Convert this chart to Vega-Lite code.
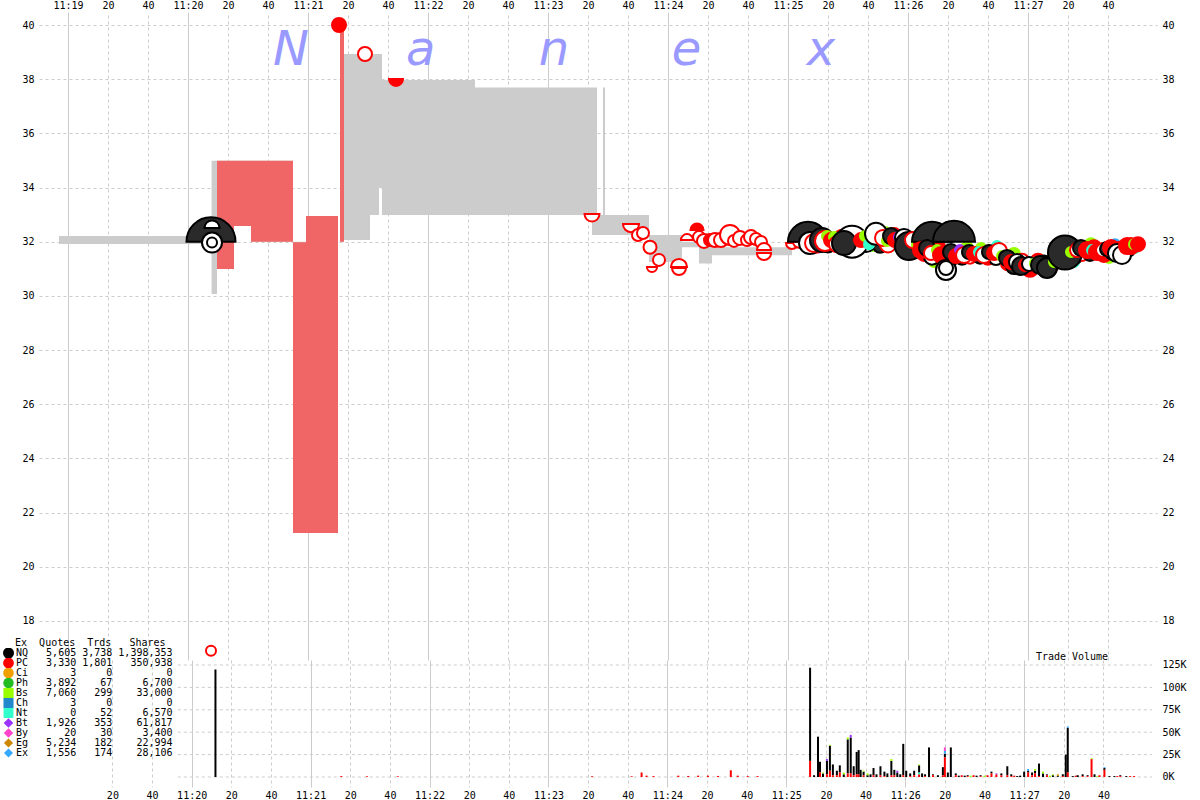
{
  "$schema": "https://vega.github.io/schema/vega-lite/v6.json",
  "autosize": {"type": "pad"},
  "padding": {"left": 3, "top": 0, "right": 0, "bottom": 0},
  "background": "white",
  "bounds": "flush",
  "spacing": 0,
  "config": {
    "view": {"stroke": null},
    "axis": {"domain": false, "ticks": false, "labelFont": "DejaVu Sans Mono", "labelFontSize": 10, "labelColor": "#000000", "gridColor": "#CCCCCC", "gridWidth": 1, "labelOverlap": false, "labelFlush": false}
  },
  "datasets": {
    "wm": [
      {"letter": "N", "t": 1251.5, "p": 38.52},
      {"letter": "a", "t": 1316.3, "p": 38.52},
      {"letter": "n", "t": 1383, "p": 38.52},
      {"letter": "e", "t": 1449.3, "p": 38.52},
      {"letter": "x", "t": 1516.5, "p": 38.52}
    ],
    "nbbo": [
      {"t": 1135.5, "bid": 31.92, "ask": 32.21},
      {"t": 1211.8, "bid": 30.07, "ask": 34.99},
      {"t": 1214.5, "bid": 30.99, "ask": 34.99},
      {"t": 1223, "bid": 32.58, "ask": 34.99},
      {"t": 1231.5, "bid": 32.0, "ask": 34.99},
      {"t": 1252.5, "bid": 21.25, "ask": 32.0},
      {"t": 1259, "bid": 21.25, "ask": 32.95},
      {"t": 1275, "bid": 32.0, "ask": 32.0},
      {"t": 1276, "bid": 32.0, "ask": 40.0},
      {"t": 1278, "bid": 32.06, "ask": 38.93},
      {"t": 1291, "bid": 32.99, "ask": 38.93},
      {"t": 1295.5, "bid": 33.98, "ask": 38.93},
      {"t": 1297, "bid": 32.99, "ask": 37.97},
      {"t": 1343.5, "bid": 32.99, "ask": 37.69},
      {"t": 1402, "bid": 32.25, "ask": 37.69},
      {"t": 1404.5, "bid": 32.25, "ask": 32.99},
      {"t": 1407.5, "bid": 32.25, "ask": 37.69},
      {"t": 1408.5, "bid": 32.25, "ask": 32.99},
      {"t": 1430.5, "bid": 31.25, "ask": 32.25},
      {"t": 1447, "bid": 31.8, "ask": 32.0},
      {"t": 1455.5, "bid": 31.2, "ask": 32.0},
      {"t": 1462, "bid": 31.5, "ask": 31.8},
      {"t": 1502, "bid": 31.88, "ask": 32.03},
      {"t": 1520, "bid": 31.95, "ask": 32.1},
      {"t": 1560, "bid": 31.8, "ask": 31.95},
      {"t": 1580, "bid": 31.55, "ask": 31.7},
      {"t": 1610, "bid": 31.3, "ask": 31.45},
      {"t": 1630, "bid": 31.05, "ask": 31.2},
      {"t": 1640, "bid": 31.55, "ask": 31.7},
      {"t": 1660, "bid": 31.7, "ask": 31.85},
      {"t": 1675, "bid": 31.85, "ask": 32.0},
      {"t": 1676, "bid": 31.85, "ask": 32.0}
    ],
    "pcq": [
      {"t": 1214.5, "bid": 30.99, "ask": 34.99},
      {"t": 1223, "bid": 32.58, "ask": 34.99},
      {"t": 1231.5, "bid": 32.0, "ask": 34.99},
      {"t": 1252.5, "bid": 21.25, "ask": 31.98},
      {"t": 1259, "bid": 21.25, "ask": 32.95},
      {"t": 1275, "bid": 32.0, "ask": 32.0},
      {"t": 1276, "bid": 32.0, "ask": 40.0},
      {"t": 1278, "bid": 32.0, "ask": 32.0}
    ],
    "trades": [
      {"t": 1211.5, "p": 32.0, "ex": "NQ", "kind": "filled", "half": "top", "shares": 9348},
      {"t": 1212, "p": 32.51, "ex": "NQ", "kind": "hollow", "half": "top", "shares": 644},
      {"t": 1212, "p": 31.97, "ex": "NQ", "kind": "hollow", "half": "full", "shares": 1344},
      {"t": 1212, "p": 31.97, "ex": "NQ", "kind": "hollow", "half": "full", "shares": 144},
      {"t": 1211.5, "p": 16.9, "ex": "PC", "kind": "hollow", "half": "full", "shares": 144},
      {"t": 1275.5, "p": 40.0, "ex": "PC", "kind": "filled", "half": "full", "shares": 528},
      {"t": 1288.5, "p": 38.93, "ex": "PC", "kind": "hollow", "half": "full", "shares": 528},
      {"t": 1304, "p": 38.01, "ex": "PC", "kind": "filled", "half": "bottom", "shares": 528},
      {"t": 1402, "p": 33.02, "ex": "PC", "kind": "hollow", "half": "bottom", "shares": 640},
      {"t": 1421.5, "p": 32.65, "ex": "PC", "kind": "hollow", "half": "bottom", "shares": 770},
      {"t": 1425, "p": 32.25, "ex": "PC", "kind": "hollow", "half": "full", "shares": 320},
      {"t": 1427.5, "p": 32.32, "ex": "PC", "kind": "hollow", "half": "full", "shares": 320},
      {"t": 1431, "p": 31.8, "ex": "PC", "kind": "hollow", "half": "full", "shares": 420},
      {"t": 1432, "p": 31.07, "ex": "PC", "kind": "hollow", "half": "bottom", "shares": 150},
      {"t": 1435.5, "p": 31.33, "ex": "PC", "kind": "hollow", "half": "full", "shares": 320},
      {"t": 1445.5, "p": 31.07, "ex": "PC", "kind": "hollow", "half": "top", "shares": 770},
      {"t": 1445.5, "p": 31.03, "ex": "PC", "kind": "hollow", "half": "bottom", "shares": 530},
      {"t": 1449.5, "p": 32.06, "ex": "PC", "kind": "hollow", "half": "top", "shares": 320},
      {"t": 1454.5, "p": 32.43, "ex": "PC", "kind": "filled", "half": "top", "shares": 420},
      {"t": 1455.5, "p": 32.17, "ex": "PC", "kind": "hollow", "half": "full", "shares": 320},
      {"t": 1458, "p": 32.03, "ex": "PC", "kind": "hollow", "half": "full", "shares": 530},
      {"t": 1461, "p": 32.06, "ex": "PC", "kind": "filled", "half": "full", "shares": 320},
      {"t": 1463.5, "p": 32.06, "ex": "PC", "kind": "hollow", "half": "full", "shares": 530},
      {"t": 1466.5, "p": 32.06, "ex": "PC", "kind": "hollow", "half": "full", "shares": 530},
      {"t": 1471, "p": 32.25, "ex": "PC", "kind": "hollow", "half": "full", "shares": 1344},
      {"t": 1473, "p": 32.03, "ex": "PC", "kind": "hollow", "half": "full", "shares": 320},
      {"t": 1476, "p": 32.14, "ex": "PC", "kind": "hollow", "half": "full", "shares": 530},
      {"t": 1479.5, "p": 32.06, "ex": "PC", "kind": "hollow", "half": "full", "shares": 320},
      {"t": 1481.5, "p": 32.17, "ex": "PC", "kind": "hollow", "half": "full", "shares": 530},
      {"t": 1484, "p": 32.1, "ex": "PC", "kind": "hollow", "half": "full", "shares": 320},
      {"t": 1486.5, "p": 31.99, "ex": "PC", "kind": "hollow", "half": "full", "shares": 320},
      {"t": 1488, "p": 31.69, "ex": "PC", "kind": "hollow", "half": "top", "shares": 530},
      {"t": 1488, "p": 31.58, "ex": "PC", "kind": "hollow", "half": "bottom", "shares": 530},
      {"t": 1502, "p": 31.95, "ex": "PC", "kind": "hollow", "half": "bottom", "shares": 320},
      {"t": 1505.5, "p": 32.0, "ex": "PC", "kind": "hollow", "half": "bottom", "shares": 320},
      {"t": 1514.5, "p": 32.21, "ex": "Bs", "kind": "filled", "half": "full", "shares": 320},
      {"t": 1515.5, "p": 31.8, "ex": "Bt", "kind": "filled", "half": "full", "shares": 144},
      {"t": 1523.5, "p": 31.84, "ex": "Nt", "kind": "filled", "half": "full", "shares": 144},
      {"t": 1534.5, "p": 31.84, "ex": "Bs", "kind": "filled", "half": "full", "shares": 320},
      {"t": 1542.5, "p": 31.84, "ex": "Bs", "kind": "filled", "half": "full", "shares": 144},
      {"t": 1548.5, "p": 32.36, "ex": "Bs", "kind": "filled", "half": "full", "shares": 144},
      {"t": 1554.5, "p": 31.84, "ex": "Nt", "kind": "filled", "half": "full", "shares": 144},
      {"t": 1563, "p": 31.69, "ex": "Bs", "kind": "filled", "half": "full", "shares": 320},
      {"t": 1573, "p": 31.25, "ex": "Bs", "kind": "filled", "half": "full", "shares": 144},
      {"t": 1575.5, "p": 31.4, "ex": "Bt", "kind": "filled", "half": "full", "shares": 144},
      {"t": 1589.5, "p": 31.77, "ex": "Bs", "kind": "filled", "half": "full", "shares": 320},
      {"t": 1596.5, "p": 31.77, "ex": "Bs", "kind": "filled", "half": "full", "shares": 144},
      {"t": 1604.5, "p": 31.84, "ex": "Nt", "kind": "filled", "half": "full", "shares": 144},
      {"t": 1613, "p": 31.55, "ex": "Bs", "kind": "filled", "half": "full", "shares": 320},
      {"t": 1631.5, "p": 30.96, "ex": "Bs", "kind": "filled", "half": "full", "shares": 144},
      {"t": 1643, "p": 31.25, "ex": "Nt", "kind": "filled", "half": "full", "shares": 144},
      {"t": 1651.5, "p": 31.91, "ex": "Bs", "kind": "filled", "half": "full", "shares": 320},
      {"t": 1660.5, "p": 31.4, "ex": "Bs", "kind": "filled", "half": "full", "shares": 144},
      {"t": 1663.5, "p": 31.91, "ex": "Ex", "kind": "filled", "half": "full", "shares": 144},
      {"t": 1673.5, "p": 31.77, "ex": "Nt", "kind": "filled", "half": "full", "shares": 144},
      {"t": 1514, "p": 31.85, "ex": "PC", "kind": "filled", "half": "full", "shares": 528},
      {"t": 1520, "p": 31.9, "ex": "NQ", "kind": "filled", "half": "full", "shares": 768},
      {"t": 1527, "p": 32.15, "ex": "PC", "kind": "hollow", "half": "full", "shares": 768},
      {"t": 1530, "p": 31.85, "ex": "PC", "kind": "filled", "half": "full", "shares": 528},
      {"t": 1535, "p": 32.15, "ex": "NQ", "kind": "filled", "half": "full", "shares": 528},
      {"t": 1539, "p": 31.95, "ex": "NQ", "kind": "hollow", "half": "full", "shares": 1040},
      {"t": 1543, "p": 32.05, "ex": "PC", "kind": "filled", "half": "full", "shares": 768},
      {"t": 1546, "p": 31.85, "ex": "NQ", "kind": "filled", "half": "full", "shares": 528},
      {"t": 1550, "p": 31.9, "ex": "PC", "kind": "hollow", "half": "full", "shares": 768},
      {"t": 1553, "p": 32.25, "ex": "PC", "kind": "filled", "half": "full", "shares": 528},
      {"t": 1557, "p": 31.9, "ex": "NQ", "kind": "filled", "half": "full", "shares": 768},
      {"t": 1561, "p": 32.1, "ex": "PC", "kind": "filled", "half": "full", "shares": 528},
      {"t": 1565, "p": 31.75, "ex": "NQ", "kind": "filled", "half": "full", "shares": 768},
      {"t": 1568, "p": 31.55, "ex": "PC", "kind": "filled", "half": "full", "shares": 528},
      {"t": 1572, "p": 31.45, "ex": "NQ", "kind": "hollow", "half": "full", "shares": 768},
      {"t": 1575, "p": 31.8, "ex": "PC", "kind": "filled", "half": "full", "shares": 528},
      {"t": 1578, "p": 31.4, "ex": "PC", "kind": "filled", "half": "full", "shares": 768},
      {"t": 1582, "p": 31.4, "ex": "NQ", "kind": "filled", "half": "full", "shares": 528},
      {"t": 1587, "p": 31.45, "ex": "NQ", "kind": "filled", "half": "full", "shares": 768},
      {"t": 1591, "p": 31.45, "ex": "PC", "kind": "hollow", "half": "full", "shares": 528},
      {"t": 1596, "p": 31.45, "ex": "NQ", "kind": "filled", "half": "full", "shares": 528},
      {"t": 1600, "p": 31.45, "ex": "PC", "kind": "filled", "half": "full", "shares": 768},
      {"t": 1604, "p": 31.4, "ex": "NQ", "kind": "hollow", "half": "full", "shares": 528},
      {"t": 1610, "p": 31.2, "ex": "PC", "kind": "filled", "half": "full", "shares": 528},
      {"t": 1613, "p": 31.1, "ex": "NQ", "kind": "filled", "half": "full", "shares": 768},
      {"t": 1617, "p": 31.3, "ex": "PC", "kind": "hollow", "half": "full", "shares": 528},
      {"t": 1621, "p": 31.0, "ex": "PC", "kind": "filled", "half": "full", "shares": 768},
      {"t": 1625, "p": 31.3, "ex": "PC", "kind": "filled", "half": "full", "shares": 528},
      {"t": 1628, "p": 31.2, "ex": "NQ", "kind": "filled", "half": "full", "shares": 768},
      {"t": 1632, "p": 31.15, "ex": "PC", "kind": "hollow", "half": "full", "shares": 528},
      {"t": 1636, "p": 31.45, "ex": "NQ", "kind": "filled", "half": "full", "shares": 768},
      {"t": 1640, "p": 31.4, "ex": "PC", "kind": "filled", "half": "full", "shares": 528},
      {"t": 1643, "p": 31.5, "ex": "NQ", "kind": "filled", "half": "full", "shares": 1040},
      {"t": 1647, "p": 31.55, "ex": "PC", "kind": "hollow", "half": "full", "shares": 528},
      {"t": 1651, "p": 31.55, "ex": "NQ", "kind": "filled", "half": "full", "shares": 528},
      {"t": 1653, "p": 31.8, "ex": "PC", "kind": "filled", "half": "full", "shares": 528},
      {"t": 1658, "p": 31.55, "ex": "PC", "kind": "filled", "half": "full", "shares": 768},
      {"t": 1662, "p": 31.6, "ex": "NQ", "kind": "filled", "half": "full", "shares": 528},
      {"t": 1666, "p": 31.7, "ex": "PC", "kind": "filled", "half": "full", "shares": 768},
      {"t": 1670, "p": 31.7, "ex": "NQ", "kind": "hollow", "half": "full", "shares": 528},
      {"t": 1510, "p": 32.0, "ex": "NQ", "kind": "filled", "half": "top", "shares": 6144},
      {"t": 1511, "p": 31.95, "ex": "NQ", "kind": "hollow", "half": "full", "shares": 1680},
      {"t": 1513, "p": 31.95, "ex": "PC", "kind": "hollow", "half": "full", "shares": 1040},
      {"t": 1517, "p": 32.06, "ex": "NQ", "kind": "filled", "half": "full", "shares": 2048},
      {"t": 1518.5, "p": 32.03, "ex": "PC", "kind": "hollow", "half": "full", "shares": 1344},
      {"t": 1519.5, "p": 32.21, "ex": "Bs", "kind": "filled", "half": "full", "shares": 144},
      {"t": 1521.5, "p": 32.06, "ex": "PC", "kind": "filled", "half": "full", "shares": 528},
      {"t": 1523, "p": 32.17, "ex": "Bs", "kind": "filled", "half": "full", "shares": 144},
      {"t": 1524.5, "p": 31.91, "ex": "PC", "kind": "hollow", "half": "full", "shares": 768},
      {"t": 1526, "p": 32.1, "ex": "Nt", "kind": "filled", "half": "full", "shares": 144},
      {"t": 1532, "p": 32.0, "ex": "NQ", "kind": "hollow", "half": "full", "shares": 3840},
      {"t": 1528, "p": 31.95, "ex": "NQ", "kind": "filled", "half": "full", "shares": 2048},
      {"t": 1536.5, "p": 32.06, "ex": "PC", "kind": "filled", "half": "full", "shares": 528},
      {"t": 1538.5, "p": 32.21, "ex": "Bs", "kind": "filled", "half": "full", "shares": 144},
      {"t": 1540.5, "p": 31.91, "ex": "Nt", "kind": "filled", "half": "full", "shares": 144},
      {"t": 1544, "p": 32.29, "ex": "NQ", "kind": "hollow", "half": "full", "shares": 1680},
      {"t": 1547.5, "p": 32.14, "ex": "PC", "kind": "hollow", "half": "full", "shares": 768},
      {"t": 1549.5, "p": 32.03, "ex": "Bs", "kind": "filled", "half": "full", "shares": 144},
      {"t": 1551.5, "p": 32.21, "ex": "NQ", "kind": "filled", "half": "full", "shares": 768},
      {"t": 1553.5, "p": 32.06, "ex": "PC", "kind": "filled", "half": "full", "shares": 528},
      {"t": 1555.5, "p": 32.17, "ex": "Bt", "kind": "filled", "half": "full", "shares": 144},
      {"t": 1558, "p": 32.14, "ex": "NQ", "kind": "hollow", "half": "full", "shares": 1040},
      {"t": 1560.5, "p": 31.84, "ex": "NQ", "kind": "filled", "half": "full", "shares": 2880},
      {"t": 1562.5, "p": 32.06, "ex": "PC", "kind": "hollow", "half": "full", "shares": 768},
      {"t": 1564.5, "p": 31.91, "ex": "Bs", "kind": "filled", "half": "full", "shares": 144},
      {"t": 1566.5, "p": 31.95, "ex": "PC", "kind": "filled", "half": "full", "shares": 528},
      {"t": 1572, "p": 32.0, "ex": "NQ", "kind": "filled", "half": "top", "shares": 6144},
      {"t": 1583, "p": 32.0, "ex": "NQ", "kind": "filled", "half": "top", "shares": 6800},
      {"t": 1566.5, "p": 31.69, "ex": "PC", "kind": "filled", "half": "full", "shares": 768},
      {"t": 1569.5, "p": 31.77, "ex": "NQ", "kind": "filled", "half": "full", "shares": 768},
      {"t": 1571.5, "p": 31.58, "ex": "PC", "kind": "hollow", "half": "full", "shares": 528},
      {"t": 1574.5, "p": 31.69, "ex": "Bs", "kind": "filled", "half": "full", "shares": 144},
      {"t": 1576.5, "p": 31.51, "ex": "PC", "kind": "filled", "half": "full", "shares": 768},
      {"t": 1579, "p": 30.96, "ex": "NQ", "kind": "hollow", "half": "full", "shares": 1344},
      {"t": 1579, "p": 31.03, "ex": "NQ", "kind": "hollow", "half": "full", "shares": 528},
      {"t": 1581.5, "p": 31.62, "ex": "NQ", "kind": "filled", "half": "full", "shares": 768},
      {"t": 1584, "p": 31.47, "ex": "PC", "kind": "filled", "half": "full", "shares": 528},
      {"t": 1586, "p": 31.69, "ex": "Bt", "kind": "filled", "half": "full", "shares": 144},
      {"t": 1588, "p": 31.51, "ex": "PC", "kind": "hollow", "half": "full", "shares": 768},
      {"t": 1590.5, "p": 31.62, "ex": "NQ", "kind": "filled", "half": "full", "shares": 528},
      {"t": 1593, "p": 31.55, "ex": "PC", "kind": "filled", "half": "full", "shares": 528},
      {"t": 1595.5, "p": 31.62, "ex": "Nt", "kind": "filled", "half": "full", "shares": 144},
      {"t": 1598, "p": 31.51, "ex": "PC", "kind": "hollow", "half": "full", "shares": 768},
      {"t": 1600.5, "p": 31.62, "ex": "NQ", "kind": "filled", "half": "full", "shares": 528},
      {"t": 1603, "p": 31.58, "ex": "PC", "kind": "filled", "half": "full", "shares": 528},
      {"t": 1605.5, "p": 31.66, "ex": "PC", "kind": "hollow", "half": "full", "shares": 768},
      {"t": 1607, "p": 31.47, "ex": "Bs", "kind": "filled", "half": "full", "shares": 144},
      {"t": 1609.5, "p": 31.4, "ex": "NQ", "kind": "filled", "half": "full", "shares": 768},
      {"t": 1611.5, "p": 31.25, "ex": "PC", "kind": "filled", "half": "full", "shares": 528},
      {"t": 1614.5, "p": 31.25, "ex": "NQ", "kind": "hollow", "half": "full", "shares": 768},
      {"t": 1616.5, "p": 31.1, "ex": "NQ", "kind": "filled", "half": "full", "shares": 1040},
      {"t": 1618.5, "p": 31.14, "ex": "PC", "kind": "filled", "half": "full", "shares": 320},
      {"t": 1620.5, "p": 31.18, "ex": "NQ", "kind": "hollow", "half": "full", "shares": 528},
      {"t": 1623.5, "p": 31.21, "ex": "Bs", "kind": "filled", "half": "full", "shares": 144},
      {"t": 1626, "p": 31.14, "ex": "NQ", "kind": "filled", "half": "full", "shares": 1040},
      {"t": 1629.5, "p": 31.03, "ex": "NQ", "kind": "filled", "half": "full", "shares": 1344},
      {"t": 1633, "p": 31.25, "ex": "Bs", "kind": "filled", "half": "full", "shares": 144},
      {"t": 1634.5, "p": 31.4, "ex": "PC", "kind": "filled", "half": "full", "shares": 528},
      {"t": 1638.5, "p": 31.6, "ex": "NQ", "kind": "filled", "half": "full", "shares": 4368},
      {"t": 1641.5, "p": 31.62, "ex": "Bs", "kind": "filled", "half": "full", "shares": 144},
      {"t": 1644.5, "p": 31.69, "ex": "PC", "kind": "hollow", "half": "full", "shares": 528},
      {"t": 1646.5, "p": 31.77, "ex": "NQ", "kind": "filled", "half": "full", "shares": 768},
      {"t": 1649.5, "p": 31.69, "ex": "PC", "kind": "filled", "half": "full", "shares": 768},
      {"t": 1652, "p": 31.69, "ex": "Nt", "kind": "filled", "half": "full", "shares": 144},
      {"t": 1654.5, "p": 31.62, "ex": "PC", "kind": "filled", "half": "full", "shares": 768},
      {"t": 1657.5, "p": 31.69, "ex": "PC", "kind": "hollow", "half": "full", "shares": 528},
      {"t": 1659.5, "p": 31.73, "ex": "NQ", "kind": "filled", "half": "full", "shares": 528},
      {"t": 1661.5, "p": 31.77, "ex": "PC", "kind": "filled", "half": "full", "shares": 768},
      {"t": 1664.5, "p": 31.58, "ex": "NQ", "kind": "hollow", "half": "full", "shares": 1040},
      {"t": 1667, "p": 31.51, "ex": "NQ", "kind": "hollow", "half": "full", "shares": 1040},
      {"t": 1669.5, "p": 31.84, "ex": "PC", "kind": "filled", "half": "full", "shares": 768},
      {"t": 1671.5, "p": 31.84, "ex": "PC", "kind": "filled", "half": "full", "shares": 768},
      {"t": 1673, "p": 31.91, "ex": "Bs", "kind": "filled", "half": "full", "shares": 144},
      {"t": 1675, "p": 31.91, "ex": "PC", "kind": "filled", "half": "full", "shares": 528}
    ],
    "vol": [
      {"t": 1212, "ex": "NQ", "v": 120000},
      {"t": 1275.5, "ex": "PC", "v": 1000},
      {"t": 1288.5, "ex": "PC", "v": 800},
      {"t": 1304, "ex": "PC", "v": 800},
      {"t": 1402, "ex": "PC", "v": 800},
      {"t": 1422, "ex": "PC", "v": 800},
      {"t": 1427, "ex": "PC", "v": 5000},
      {"t": 1429.5, "ex": "PC", "v": 1500},
      {"t": 1433, "ex": "PC", "v": 1000},
      {"t": 1445.5, "ex": "PC", "v": 1500},
      {"t": 1450.5, "ex": "PC", "v": 1200},
      {"t": 1455.5, "ex": "PC", "v": 1500},
      {"t": 1460.5, "ex": "PC", "v": 1500},
      {"t": 1465.5, "ex": "PC", "v": 1200},
      {"t": 1472, "ex": "PC", "v": 7500},
      {"t": 1475.5, "ex": "PC", "v": 1500},
      {"t": 1480.5, "ex": "PC", "v": 1000},
      {"t": 1485.5, "ex": "PC", "v": 1000},
      {"t": 1512, "ex": "NQ", "v": 104000},
      {"t": 1512, "ex": "PC", "v": 18000},
      {"t": 1514, "ex": "NQ", "v": 2000},
      {"t": 1516, "ex": "NQ", "v": 45000},
      {"t": 1517, "ex": "NQ", "v": 12000},
      {"t": 1517, "ex": "PC", "v": 5000},
      {"t": 1518.5, "ex": "NQ", "v": 4000},
      {"t": 1518.5, "ex": "Bs", "v": 1000},
      {"t": 1520.5, "ex": "NQ", "v": 15000},
      {"t": 1520.5, "ex": "PC", "v": 3000},
      {"t": 1520.5, "ex": "Bt", "v": 2000},
      {"t": 1522, "ex": "NQ", "v": 28000},
      {"t": 1522, "ex": "PC", "v": 7000},
      {"t": 1522, "ex": "Bs", "v": 1000},
      {"t": 1523.5, "ex": "NQ", "v": 12000},
      {"t": 1523.5, "ex": "PC", "v": 2000},
      {"t": 1525.5, "ex": "NQ", "v": 5000},
      {"t": 1525.5, "ex": "PC", "v": 2000},
      {"t": 1527, "ex": "NQ", "v": 8000},
      {"t": 1527, "ex": "PC", "v": 5000},
      {"t": 1529, "ex": "NQ", "v": 3000},
      {"t": 1529, "ex": "Bs", "v": 2000},
      {"t": 1531, "ex": "NQ", "v": 38000},
      {"t": 1531, "ex": "PC", "v": 4000},
      {"t": 1531, "ex": "Bs", "v": 2000},
      {"t": 1532.5, "ex": "NQ", "v": 40000},
      {"t": 1532.5, "ex": "PC", "v": 4000},
      {"t": 1532.5, "ex": "Bt", "v": 3000},
      {"t": 1534, "ex": "NQ", "v": 10000},
      {"t": 1534, "ex": "PC", "v": 2000},
      {"t": 1535.5, "ex": "NQ", "v": 25000},
      {"t": 1535.5, "ex": "PC", "v": 3000},
      {"t": 1536.5, "ex": "NQ", "v": 27000},
      {"t": 1536.5, "ex": "PC", "v": 3000},
      {"t": 1537.5, "ex": "NQ", "v": 8000},
      {"t": 1539, "ex": "NQ", "v": 4000},
      {"t": 1539, "ex": "PC", "v": 2000},
      {"t": 1539, "ex": "Bs", "v": 1000},
      {"t": 1541, "ex": "NQ", "v": 2000},
      {"t": 1541, "ex": "Bs", "v": 2000},
      {"t": 1542.5, "ex": "NQ", "v": 3000},
      {"t": 1544, "ex": "NQ", "v": 8000},
      {"t": 1544, "ex": "PC", "v": 2000},
      {"t": 1545.5, "ex": "NQ", "v": 3000},
      {"t": 1547.5, "ex": "NQ", "v": 10000},
      {"t": 1547.5, "ex": "PC", "v": 2000},
      {"t": 1549.5, "ex": "NQ", "v": 5000},
      {"t": 1549.5, "ex": "PC", "v": 1000},
      {"t": 1551, "ex": "NQ", "v": 4000},
      {"t": 1553, "ex": "NQ", "v": 16000},
      {"t": 1553, "ex": "PC", "v": 2000},
      {"t": 1553, "ex": "Bs", "v": 2000},
      {"t": 1554.5, "ex": "NQ", "v": 6000},
      {"t": 1554.5, "ex": "PC", "v": 2000},
      {"t": 1556, "ex": "NQ", "v": 5000},
      {"t": 1556, "ex": "Bt", "v": 2000},
      {"t": 1557.5, "ex": "NQ", "v": 3000},
      {"t": 1559, "ex": "NQ", "v": 35000},
      {"t": 1559, "ex": "PC", "v": 2000},
      {"t": 1560.5, "ex": "NQ", "v": 7000},
      {"t": 1562.5, "ex": "NQ", "v": 3000},
      {"t": 1562.5, "ex": "PC", "v": 1000},
      {"t": 1564.5, "ex": "NQ", "v": 5000},
      {"t": 1564.5, "ex": "PC", "v": 2000},
      {"t": 1567, "ex": "NQ", "v": 8000},
      {"t": 1567, "ex": "PC", "v": 3000},
      {"t": 1567, "ex": "Nt", "v": 2000},
      {"t": 1567, "ex": "Bs", "v": 1000},
      {"t": 1568.5, "ex": "NQ", "v": 4000},
      {"t": 1570, "ex": "NQ", "v": 2000},
      {"t": 1570, "ex": "PC", "v": 1000},
      {"t": 1572, "ex": "NQ", "v": 33000},
      {"t": 1574, "ex": "NQ", "v": 1000},
      {"t": 1574, "ex": "PC", "v": 2000},
      {"t": 1576.5, "ex": "NQ", "v": 2000},
      {"t": 1579, "ex": "NQ", "v": 9000},
      {"t": 1579, "ex": "PC", "v": 2000},
      {"t": 1580, "ex": "NQ", "v": 4000},
      {"t": 1580, "ex": "PC", "v": 22000},
      {"t": 1580, "ex": "By", "v": 4000},
      {"t": 1580, "ex": "Ex", "v": 3000},
      {"t": 1581.5, "ex": "NQ", "v": 5000},
      {"t": 1583, "ex": "NQ", "v": 33000},
      {"t": 1585.5, "ex": "NQ", "v": 2000},
      {"t": 1585.5, "ex": "PC", "v": 2000},
      {"t": 1587, "ex": "NQ", "v": 1500},
      {"t": 1588.5, "ex": "PC", "v": 2000},
      {"t": 1590, "ex": "NQ", "v": 1500},
      {"t": 1591.5, "ex": "NQ", "v": 1000},
      {"t": 1591.5, "ex": "PC", "v": 1000},
      {"t": 1593, "ex": "Bs", "v": 1500},
      {"t": 1594.5, "ex": "PC", "v": 2000},
      {"t": 1596, "ex": "NQ", "v": 1500},
      {"t": 1598, "ex": "NQ", "v": 1000},
      {"t": 1598, "ex": "PC", "v": 1000},
      {"t": 1600, "ex": "Bs", "v": 1500},
      {"t": 1601.5, "ex": "PC", "v": 2000},
      {"t": 1603.5, "ex": "NQ", "v": 2000},
      {"t": 1603.5, "ex": "PC", "v": 4000},
      {"t": 1606, "ex": "PC", "v": 3000},
      {"t": 1606, "ex": "Bt", "v": 1000},
      {"t": 1608.5, "ex": "NQ", "v": 2000},
      {"t": 1608.5, "ex": "PC", "v": 2000},
      {"t": 1611.5, "ex": "NQ", "v": 10000},
      {"t": 1611.5, "ex": "PC", "v": 2000},
      {"t": 1613.5, "ex": "NQ", "v": 2000},
      {"t": 1613.5, "ex": "PC", "v": 1000},
      {"t": 1615, "ex": "PC", "v": 1500},
      {"t": 1616.5, "ex": "NQ", "v": 1000},
      {"t": 1618, "ex": "NQ", "v": 1500},
      {"t": 1620, "ex": "NQ", "v": 6000},
      {"t": 1622, "ex": "NQ", "v": 2000},
      {"t": 1622, "ex": "PC", "v": 5000},
      {"t": 1622, "ex": "Ex", "v": 2000},
      {"t": 1624, "ex": "NQ", "v": 3000},
      {"t": 1624, "ex": "PC", "v": 2000},
      {"t": 1625.5, "ex": "NQ", "v": 3000},
      {"t": 1625.5, "ex": "PC", "v": 4000},
      {"t": 1625.5, "ex": "Bs", "v": 2000},
      {"t": 1627.5, "ex": "NQ", "v": 14000},
      {"t": 1627.5, "ex": "PC", "v": 1000},
      {"t": 1629.5, "ex": "NQ", "v": 4000},
      {"t": 1629.5, "ex": "Bs", "v": 2000},
      {"t": 1631.5, "ex": "NQ", "v": 1000},
      {"t": 1631.5, "ex": "PC", "v": 2000},
      {"t": 1633, "ex": "Bs", "v": 1500},
      {"t": 1634.5, "ex": "NQ", "v": 2000},
      {"t": 1634.5, "ex": "Bs", "v": 1000},
      {"t": 1637, "ex": "NQ", "v": 1000},
      {"t": 1637, "ex": "Eg", "v": 2000},
      {"t": 1639.5, "ex": "NQ", "v": 2000},
      {"t": 1639.5, "ex": "PC", "v": 1000},
      {"t": 1641, "ex": "NQ", "v": 25000},
      {"t": 1642, "ex": "NQ", "v": 50000},
      {"t": 1642, "ex": "PC", "v": 5000},
      {"t": 1642, "ex": "Ex", "v": 1500},
      {"t": 1644.5, "ex": "NQ", "v": 1000},
      {"t": 1646, "ex": "PC", "v": 1500},
      {"t": 1647, "ex": "NQ", "v": 2000},
      {"t": 1649.5, "ex": "NQ", "v": 2000},
      {"t": 1649.5, "ex": "PC", "v": 1000},
      {"t": 1652, "ex": "NQ", "v": 1000},
      {"t": 1652, "ex": "PC", "v": 1000},
      {"t": 1654, "ex": "PC", "v": 20000},
      {"t": 1654, "ex": "Bs", "v": 1000},
      {"t": 1655.5, "ex": "NQ", "v": 3000},
      {"t": 1657, "ex": "Bs", "v": 1000},
      {"t": 1658, "ex": "PC", "v": 2000},
      {"t": 1660.5, "ex": "NQ", "v": 2000},
      {"t": 1660.5, "ex": "PC", "v": 8000},
      {"t": 1660.5, "ex": "Ex", "v": 1000},
      {"t": 1663, "ex": "NQ", "v": 1000},
      {"t": 1665.5, "ex": "NQ", "v": 1000},
      {"t": 1667, "ex": "PC", "v": 1000},
      {"t": 1668.5, "ex": "NQ", "v": 1000},
      {"t": 1668.5, "ex": "PC", "v": 1000},
      {"t": 1671.5, "ex": "NQ", "v": 1000},
      {"t": 1673.5, "ex": "PC", "v": 1000},
      {"t": 1675.5, "ex": "PC", "v": 1000}
    ],
    "vgrid": [
      {"v": 0}, {"v": 25000}, {"v": 50000}, {"v": 75000}, {"v": 100000}, {"v": 125000}
    ],
    "exch": [
      {"ex": "NQ", "quotes": 5605, "trds": 3738, "shares": 1398353},
      {"ex": "PC", "quotes": 3330, "trds": 1801, "shares": 350938},
      {"ex": "Ci", "quotes": 3, "trds": 0, "shares": 0},
      {"ex": "Ph", "quotes": 3892, "trds": 67, "shares": 6700},
      {"ex": "Bs", "quotes": 7060, "trds": 299, "shares": 33000},
      {"ex": "Ch", "quotes": 3, "trds": 0, "shares": 0},
      {"ex": "Nt", "quotes": 0, "trds": 52, "shares": 6570},
      {"ex": "Bt", "quotes": 1926, "trds": 353, "shares": 61817},
      {"ex": "By", "quotes": 20, "trds": 30, "shares": 3400},
      {"ex": "Eg", "quotes": 5234, "trds": 182, "shares": 22994},
      {"ex": "Ex", "quotes": 1556, "trds": 174, "shares": 28106}
    ]
  },
  "resolve": {"scale": {"y": "independent", "fill": "independent", "shape": "independent", "stroke": "independent", "size": "independent", "color": "independent"}},
  "vconcat": [
    {
      "width": 1118,
      "height": 648,
      "resolve": {"axis": {"x": "independent", "y": "independent"}},
      "layer": [
        {
          "data": {"name": "wm"},
          "mark": {"type": "text", "font": "DejaVu Sans", "fontStyle": "italic", "fontSize": 48, "color": "#9999FF", "baseline": "alphabetic", "align": "center"},
          "encoding": {
            "x": {"field": "t", "type": "quantitative", "axis": null, "scale": {"domain": [1125.5, 1684.5], "nice": false, "zero": false}},
            "y": {"field": "p", "type": "quantitative", "axis": null, "scale": {"domain": [16.56, 40.48], "nice": false, "zero": false}},
            "text": {"field": "letter"}
          }
        },
        {
          "data": {"name": "nbbo"},
          "mark": {"type": "area", "interpolate": "step-after", "color": "#CCCCCC", "opacity": 1},
          "encoding": {
            "x": {"field": "t", "type": "quantitative", "axis": {"orient": "top", "title": null, "values": [1140,1160,1180,1200,1220,1240,1260,1280,1300,1320,1340,1360,1380,1400,1420,1440,1460,1480,1500,1520,1540,1560,1580,1600,1620,1640,1660], "labelExpr": "datum.value % 60 == 0 ? '11:' + (datum.value / 60) : '' + (datum.value % 60)", "labelPadding": 2, "grid": true, "gridDash": {"condition": {"test": "datum.value % 60 == 0", "value": []}, "value": [3, 3]}}},
            "y": {"field": "bid", "type": "quantitative", "axis": {"orient": "left", "title": null, "values": [18,20,22,24,26,28,30,32,34,36,38,40], "grid": true, "gridDash": [3, 3], "labelPadding": 5}},
            "y2": {"field": "ask"}
          }
        },
        {
          "data": {"name": "pcq"},
          "mark": {"type": "area", "interpolate": "step-after", "color": "#F06666", "opacity": 1},
          "encoding": {
            "x": {"field": "t", "type": "quantitative", "axis": null},
            "y": {"field": "bid", "type": "quantitative", "axis": {"orient": "right", "title": null, "values": [18,20,22,24,26,28,30,32,34,36,38,40], "grid": false, "labelPadding": 5}},
            "y2": {"field": "ask"}
          }
        },
        {
          "data": {"name": "trades"},
          "mark": {"type": "point", "filled": true, "opacity": 1, "strokeWidth": 2},
          "encoding": {
            "x": {"field": "t", "type": "quantitative", "axis": null},
            "y": {"field": "p", "type": "quantitative", "axis": null},
            "size": {"field": "shares", "type": "quantitative", "scale": {"type": "linear", "domain": [0, 10000], "range": [64, 2564], "zero": false}, "legend": null},
            "shape": {"field": "half", "type": "nominal", "scale": {"domain": ["full", "top", "bottom"], "range": ["circle", "M-1,0A1,1,0,0,1,1,0Z", "M-1,0A1,1,0,0,0,1,0Z"]}, "legend": null},
            "stroke": {"field": "ex", "type": "nominal", "scale": {"domain": ["NQ","PC","Ci","Ph","Bs","Ch","Nt","Bt","By","Eg","Ex"], "range": ["#000000","#FF0000","#F0A000","#22BB22","#99FF00","#2288CC","#33FFCC","#9933FF","#FF44CC","#CC8800","#33AAFF"]}, "legend": null},
            "fill": {"condition": {"test": "datum.kind == 'hollow'", "value": "#FFFFFF"}, "field": "ex", "type": "nominal", "scale": {"domain": ["NQ","PC","Ci","Ph","Bs","Ch","Nt","Bt","By","Eg","Ex"], "range": ["#2A2A2A","#FF0000","#F0A000","#22BB22","#99FF00","#2288CC","#33FFCC","#9933FF","#FF44CC","#CC8800","#33AAFF"]}, "legend": null}
          }
        },
        {
          "data": {"values": [{"label": "Trade Volume"}]},
          "mark": {"type": "text", "font": "DejaVu Sans Mono", "fontSize": 10, "color": "#000000", "align": "center"},
          "encoding": {
            "x": {"datum": 1642, "type": "quantitative", "axis": null},
            "y": {"datum": 16.67, "type": "quantitative", "axis": null},
            "text": {"field": "label"}
          }
        }
      ]
    },
    {
      "width": 1118,
      "height": 127,
      "resolve": {"axis": {"x": "independent", "y": "independent"}},
      "layer": [
        {
          "data": {"name": "vgrid"},
          "mark": {"type": "rule", "color": "#CCCCCC", "strokeDash": [3, 3]},
          "encoding": {
            "y": {"field": "v", "type": "quantitative", "scale": {"domain": [-11161, 130580], "nice": false, "zero": false}, "axis": {"orient": "right", "title": null, "values": [0, 25000, 50000, 75000, 100000, 125000], "labelExpr": "(datum.value / 1000) + 'K'", "grid": false, "labelPadding": 5}},
            "x": {"datum": 1193, "type": "quantitative", "axis": null},
            "x2": {"datum": 1684.5}
          }
        },
        {
          "data": {"name": "vol"},
          "mark": {"type": "bar", "width": 2, "opacity": 1},
          "encoding": {
            "x": {"field": "t", "type": "quantitative", "scale": {"domain": [1125.5, 1684.5], "nice": false, "zero": false}, "axis": {"orient": "bottom", "title": null, "values": [1160,1180,1200,1220,1240,1260,1280,1300,1320,1340,1360,1380,1400,1420,1440,1460,1480,1500,1520,1540,1560,1580,1600,1620,1640,1660], "labelExpr": "datum.value % 60 == 0 ? '11:' + (datum.value / 60) : '' + (datum.value % 60)", "labelPadding": 3, "grid": true, "gridDash": {"condition": {"test": "datum.value % 60 == 0", "value": []}, "value": [3, 3]}}},
            "y": {"field": "v", "type": "quantitative", "stack": "zero", "axis": null},
            "color": {"field": "ex", "type": "nominal", "sort": ["NQ","PC","Ci","Ph","Bs","Ch","Nt","Bt","By","Eg","Ex"], "scale": {"domain": ["NQ","PC","Ci","Ph","Bs","Ch","Nt","Bt","By","Eg","Ex"], "range": ["#000000","#FF0000","#F0A000","#22BB22","#99FF00","#2288CC","#33FFCC","#9933FF","#FF44CC","#CC8800","#33AAFF"]}, "legend": null}
          }
        },
        {
          "data": {"name": "exch"},
          "transform": [{"calculate": "datum.ex + pad(format(datum.quotes, ','), 8, '\u00a0', 'left') + pad(format(datum.trds, ','), 6, '\u00a0', 'left') + pad(format(datum.shares, ','), 10, '\u00a0', 'left')", "as": "row"}],
          "mark": {"type": "point", "filled": true, "opacity": 1, "clip": true},
          "encoding": {
            "x": {"datum": 1100, "type": "quantitative", "axis": null},
            "y": {"datum": 0, "type": "quantitative", "axis": null},
            "fill": {"field": "row", "type": "nominal", "sort": null, "scale": {"range": ["#000000","#FF0000","#F0A000","#22BB22","#99FF00","#2288CC","#33FFCC","#9933FF","#FF44CC","#CC8800","#33AAFF"]}, "legend": {"orient": "none", "legendX": -36, "legendY": -22, "title": "\u200b\u00a0\u00a0Ex\u00a0\u00a0Quotes\u00a0\u00a0Trds\u00a0\u00a0\u00a0Shares", "titleFont": "DejaVu Sans Mono", "titleFontSize": 10, "titleFontWeight": "normal", "titleColor": "#000000", "titlePadding": 0, "labelFont": "DejaVu Sans Mono", "labelFontSize": 10, "labelColor": "#000000", "symbolStrokeWidth": 0, "rowPadding": 0, "labelOffset": 2, "padding": 0, "labelLimit": 300, "clipHeight": 10}},
            "shape": {"field": "row", "type": "nominal", "sort": null, "scale": {"range": ["circle","circle","circle","circle","square","square","square","diamond","diamond","diamond","diamond"]}},
            "size": {"field": "row", "type": "ordinal", "sort": null, "scale": {"range": [121, 81, 25, 49, 81, 25, 36, 49, 36, 121, 49]}}
          }
        }
      ]
    }
  ]
}
